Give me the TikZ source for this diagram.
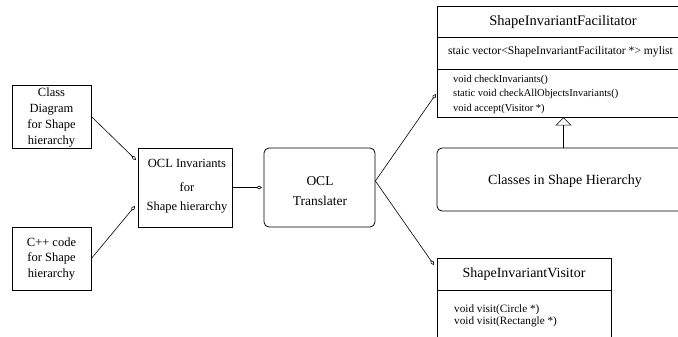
\documentclass[tikz,border=0pt]{standalone}
\usepackage{fontspec}
\setmainfont{Liberation Serif}
\usetikzlibrary{arrows.meta,calc}
\begin{document}
\begin{tikzpicture}[x=1pt,y=-1pt,
  box/.style={draw,line width=0.8pt,inner sep=0pt},
  rbox/.style={box,rounded corners=5pt},
  conn/.style={line width=0.6pt,-{Diamond[open,length=6pt,width=3.5pt]}},
  txt/.style={inner sep=0pt,align=center},
  ltxt/.style={inner sep=0pt,align=left,anchor=west}]
\clip (0,0) rectangle (678,337);
% left boxes
\node[box,minimum width=79pt,minimum height=63pt] (cd) at (51.5,116.5) {};
\node[txt,font=\fontsize{12.5}{16}\selectfont] (cdt) at (51.5,117.5) {Class\\Diagram\\for Shape\\hierarchy};
\node[box,minimum width=79pt,minimum height=63pt] (cpp) at (51.5,258.5) {};
\node[txt,font=\fontsize{12.5}{15.5}\selectfont] (cppt) at (51.5,259) {C++ code\\for Shape\\hierarchy};
% OCL invariants
\node[box,minimum width=94pt,minimum height=79pt] (inv) at (185,187.5) {};
\node[txt,font=\fontsize{12.5}{19}\selectfont] (invt) at (187,186.5) {OCL Invariants\\[5pt]for\\Shape hierarchy};
% translater
\node[rbox,minimum width=111pt,minimum height=79pt] (tr) at (319.5,187.5) {};
\node[txt,font=\fontsize{13.5}{20}\selectfont] (trt) at (320,191) {OCL\\Translater};
% facilitator
\node[box,minimum width=253pt,minimum height=111pt] (fac) at (563.5,61.5) {};
\draw[line width=0.8pt] (fac.west |- 0,37) -- (fac.east |- 0,37);
\draw[line width=0.8pt] (fac.west |- 0,69) -- (fac.east |- 0,69);
\node[txt,font=\fontsize{14.5}{17}\selectfont] (fact) at (563,22) {ShapeInvariantFacilitator};
\node[ltxt,font=\fontsize{11.6}{14}\selectfont] (faca) at (448,52) {staic vector<ShapeInvariantFacilitator *> mylist};
\node[ltxt,font=\fontsize{10.5}{14.5}\selectfont] (facm) at (453,94) {void checkInvariants()\\static void checkAllObjectsInvariants()\\void accept(Visitor *)};
% classes
\node[rbox,minimum width=256pt,minimum height=63pt] (cls) at (565,179.5) {};
\node[txt,font=\fontsize{14}{17}\selectfont] (clst) at (565,181) {Classes in Shape Hierarchy};
% visitor
\node[box,minimum width=174pt,minimum height=92pt] (vis) at (524,304) {};
\draw[line width=0.8pt] (vis.west |- 0,290) -- (vis.east |- 0,290);
\node[txt,font=\fontsize{14}{17}\selectfont] (vist) at (524,274) {ShapeInvariantVisitor};
\node[ltxt,font=\fontsize{11.2}{12}\selectfont] (vism) at (454,316) {void visit(Circle *)\\void visit(Rectangle *)};
% connectors
\coordinate (e1) at (136,160);
\coordinate (e2) at (135,206);
\coordinate (e3) at (436,94);
\coordinate (e4) at (434,265);
\coordinate (s) at (tr.east |- 0,181);
\draw[conn] (cd.east) -- (e1);
\draw[conn] (cpp.east) -- (e2);
\draw[conn] (inv.east) -- ($(tr.west)+(-1.5,0)$);
\draw[conn] (s) -- (e3);
\draw[conn] (s) -- (e4);
\draw[line width=0.6pt,-{Triangle[open,length=8pt,width=16pt]}] (fac.south |- cls.north) -- (fac.south);
\end{tikzpicture}
\end{document}
